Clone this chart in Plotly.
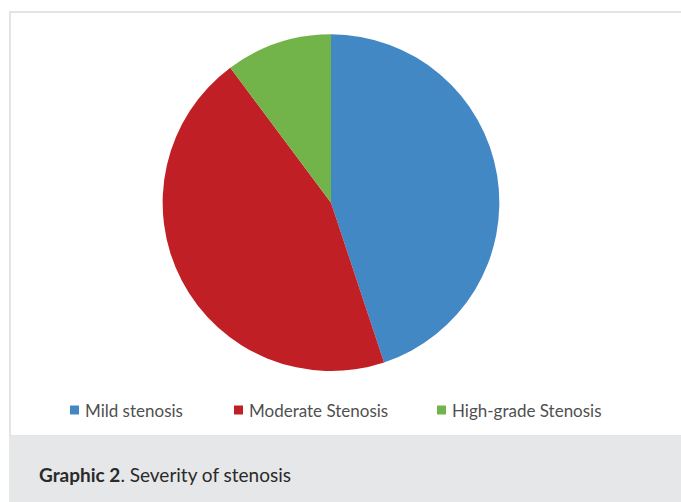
import plotly.graph_objects as go

# Severity of stenosis: patient counts per grade
categories = ["Mild stenosis", "Moderate Stenosis", "High-grade Stenosis"]
counts = [22, 22, 5]
colors = ["#4288c5", "#c01f25", "#72b34a"]

W, H = 681, 502

fig = go.Figure(
    go.Pie(
        labels=categories,
        values=counts,
        marker=dict(colors=colors, line=dict(width=0)),
        sort=False,
        direction="clockwise",
        rotation=0,
        textinfo="none",
        hoverinfo="label+value+percent",
        showlegend=False,
        domain=dict(x=[(331 - 168.5) / W, (331 + 168.5) / W],
                    y=[1 - 371 / H, 1 - 34.3 / H]),
    )
)

shapes = [
    # chart panel with light frame
    dict(type="rect", xref="paper", yref="paper",
         x0=10 / W, x1=1.01, y0=1 - 436 / H, y1=1 - 12 / H,
         fillcolor="white", line=dict(color="#e4e4e4", width=2), layer="below"),
    # caption band
    dict(type="rect", xref="paper", yref="paper",
         x0=9 / W, x1=1.01, y0=-0.01, y1=1 - 436 / H,
         fillcolor="#e6e7e9", line=dict(width=0), layer="below"),
]

annotations = []

# legend row: colour key square followed by its label
key_x = [70, 234, 437]   # left edge of each key square, px
legend_y = 410
sq = 9
for name, col, kx in zip(categories, colors, key_x):
    shapes.append(dict(type="rect", xref="paper", yref="paper",
                       x0=kx / W, x1=(kx + sq) / W,
                       y0=1 - (legend_y + sq / 2) / H, y1=1 - (legend_y - sq / 2) / H,
                       fillcolor=col, line=dict(width=0)))
    annotations.append(dict(text=name, xref="paper", yref="paper",
                            x=(kx + sq + 4) / W, y=1 - legend_y / H,
                            xanchor="left", yanchor="middle", showarrow=False,
                            font=dict(family="Lato", size=17, color="#505050")))

annotations.append(
    dict(text="<b>Graphic 2</b>. Severity of stenosis",
         xref="paper", yref="paper", x=37 / W, y=1 - 474 / H,
         xanchor="left", yanchor="middle", showarrow=False,
         font=dict(family="Lato", size=19, color="#2a2a2a"))
)

fig.update_layout(
    width=W, height=H,
    margin=dict(l=0, r=0, t=0, b=0),
    paper_bgcolor="white",
    plot_bgcolor="white",
    shapes=shapes,
    annotations=annotations,
)

fig.write_html("out.html")
